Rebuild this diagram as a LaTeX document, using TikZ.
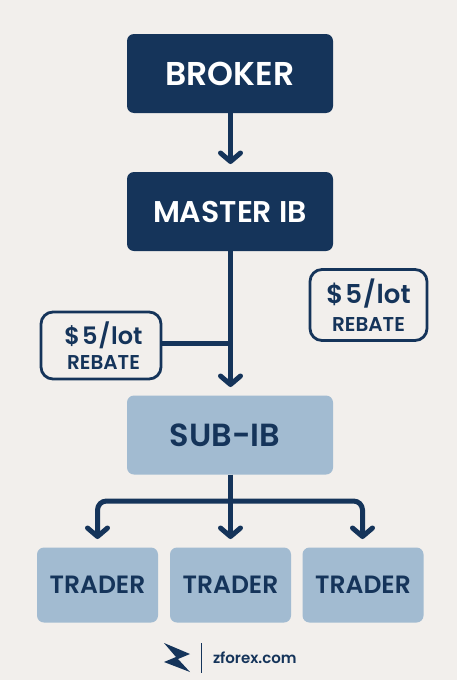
\documentclass[tikz,border=0pt]{standalone}
\usepackage{fontspec}
\setmainfont{Poppins}[BoldFont={Poppins SemiBold}]
\usetikzlibrary{arrows.meta}
\definecolor{bgc}{HTML}{F2EFEC}
\definecolor{navy}{HTML}{15345A}
\definecolor{pale}{HTML}{A2BBD1}
\tikzset{
  x=1pt,y=-1pt,
  base/.style={anchor=center,inner sep=0pt,outer sep=0pt,align=center,text=navy,font=\bfseries},
  darkbox/.style={base,fill=navy,rounded corners=7pt,minimum width=206pt,minimum height=79pt,text=white},
  subbox/.style={base,fill=pale,rounded corners=7pt,minimum width=206pt,minimum height=79pt},
  tradebox/.style={base,fill=pale,rounded corners=7pt,minimum width=121pt,minimum height=75pt,font=\bfseries\fontsize{25}{28}\selectfont},
  rebatebox/.style={base,draw=navy,line width=2.8pt,fill=bgc,rounded corners=12pt},
  conn/.style={draw=navy,line width=5pt},
  arr/.style={conn,-{Straight Barb[round,length=8.5pt,width=20pt,line width=5pt]}},
}
\newcommand{\rebatetext}[4]{{\fontsize{#1}{#1}\selectfont\kern#3\$\kern2pt 5\kern1pt/\kern1pt lot}\\[#4]{\fontsize{#2}{#2}\selectfont\kern#3 REBATE}}
\begin{document}
\begin{tikzpicture}
\useasboundingbox[fill=bgc] (0,0) rectangle (457,680);
\node[darkbox,font=\bfseries\fontsize{33}{36}\selectfont] (broker) at (230,73.5) {BROKER};
\node[darkbox,font=\bfseries\fontsize{30}{34}\selectfont] (master) at (230,211.5) {MASTER IB};
\node[subbox,font=\bfseries\fontsize{32}{36}\selectfont] (sub) at (230,435) {\kern-10pt SUB-IB};
\node[tradebox] (t1) at (97.5,585) {TRADER};
\node[tradebox] (t2) at (230.5,585) {TRADER};
\node[tradebox] (t3) at (363,585) {TRADER};
\node[rebatebox,minimum width=120pt,minimum height=67pt] (rl) at (101,345.5) {\rebatetext{24}{20}{5pt}{6pt}};
\node[rebatebox,minimum width=117pt,minimum height=71pt] (rr) at (368.5,305) {\rebatetext{26}{20}{0pt}{8pt}};
\coordinate (jl) at (230.5,343);
\coordinate (js) at (230.5,501);
\coordinate (dl) at (97.5,501);
\coordinate (dr) at (362.5,501);
\draw[arr] (broker.south -| 230.5,0) -- (230.5,164);
\draw[arr] (master.south -| 230.5,0) -- (230.5,387);
\draw[conn] (rl.east |- jl) -- (jl);
\draw[arr] (sub.south -| 230.5,0) -- (230.5,539);
\draw[arr,rounded corners=9pt] (js) -- (dl) -- (97.5,539);
\draw[arr,rounded corners=9pt] (js) -- (dr) -- (362.5,539);
\fill[navy] (164,643) -- (190,654) -- (178,659) -- (190,672) -- (164,662) -- (176,657) -- cycle;
\draw[navy,line width=0.9pt] (201.5,643) -- (201.5,673);
\node[base,anchor=west,font=\fontsize{15}{18}\selectfont\bfseries] (brand) at (213,658) {zforex.com};
\end{tikzpicture}
\end{document}
